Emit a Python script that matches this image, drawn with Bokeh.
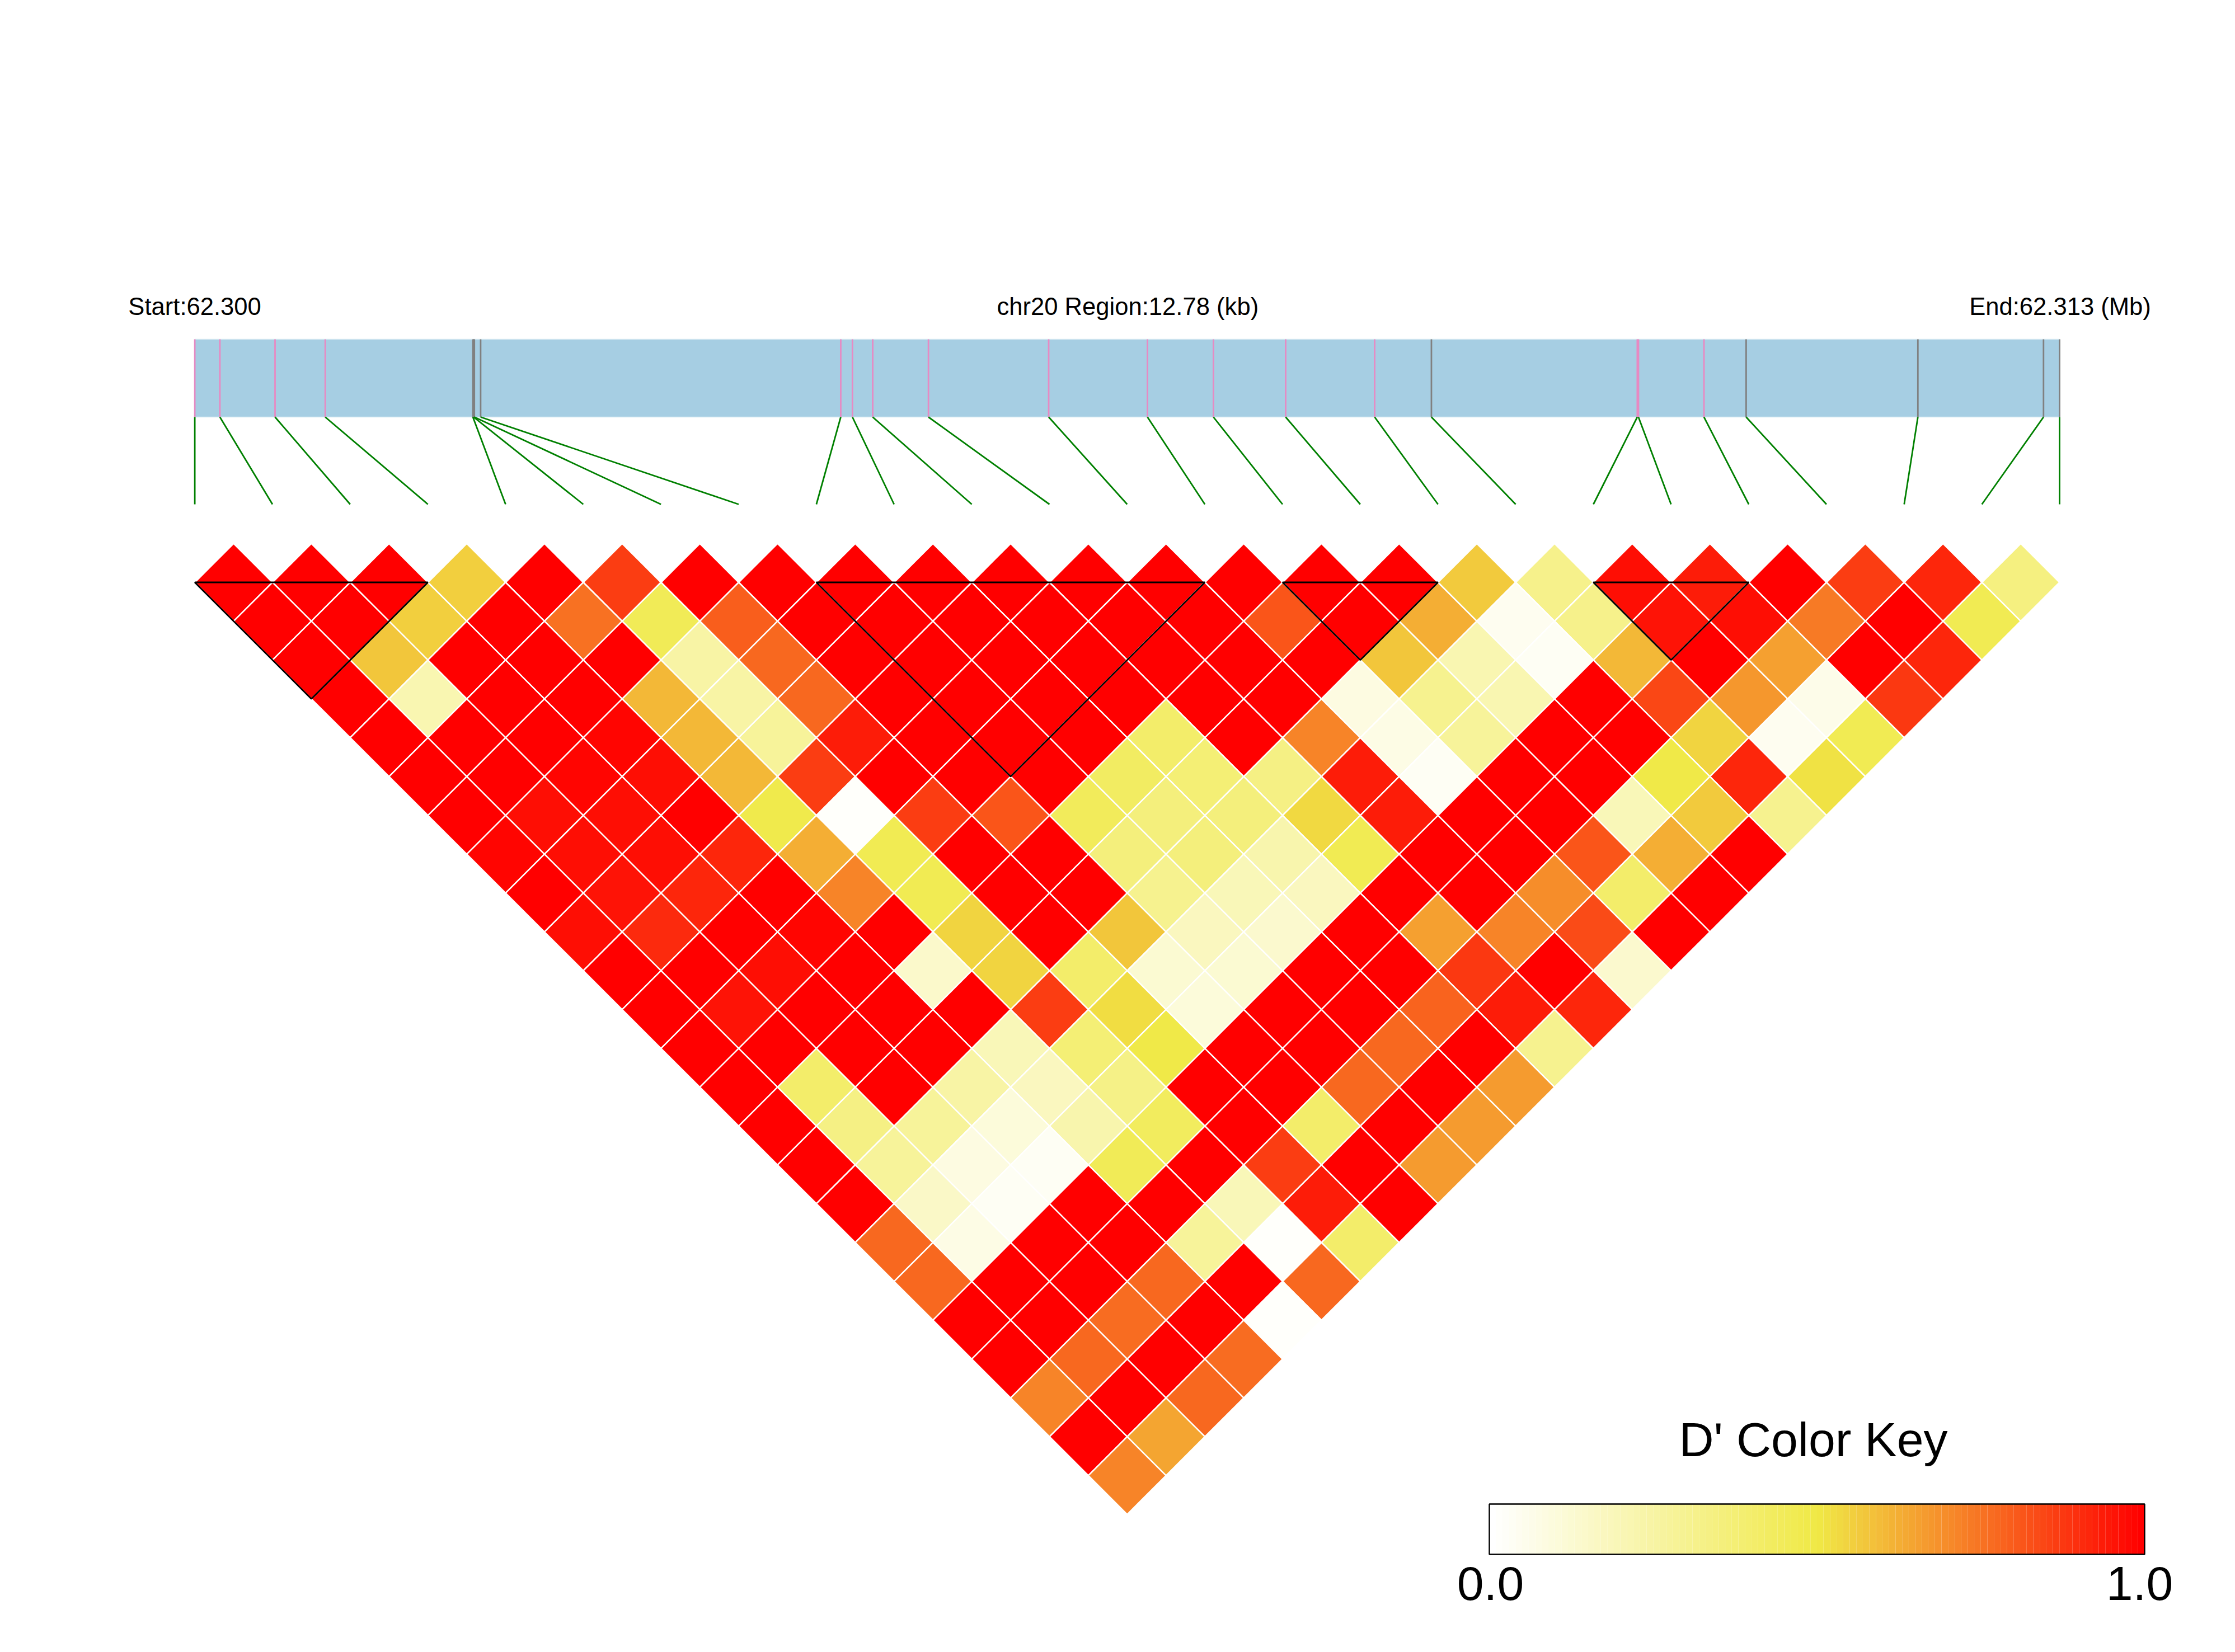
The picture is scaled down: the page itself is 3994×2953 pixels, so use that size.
from bokeh.plotting import figure
from bokeh.models import ColumnDataSource, LinearColorMapper, Range1d
from bokeh.core.properties import value
from bokeh.embed import file_html
from bokeh.resources import INLINE
import numpy as np

# ---- data ----
region_bp = 12780
snp_offset_bp = [0, 172, 550, 894, 1906, 1911, 1916, 1959, 4427, 4507, 4646, 5028, 5852,
                 6529, 6981, 7476, 8086, 8475, 9886, 9894, 10343, 10632, 11809, 12670, 12780]
snp_type = ["p", "p", "p", "p", "g", "g", "g", "g", "p", "p", "p", "p", "p",
            "p", "p", "p", "p", "g", "p", "p", "p", "g", "g", "g", "g"]

r00 = [1, 1, 1, .55, 1, .865, 1, 1, 1, 1, 1, 1, 1, 1, 1, 1, .56, .31, .965, .94, 1, .865, .91, .34]
r01 = [1, 1, .55, 1, .75, .45, .79, 1, 1, 1, 1, 1, 1, .81, 1, .62, .045, .31, .95, .965, .73, 1, .47]
r02 = [1, .58, 1, 1, 1, .24, .77, 1, 1, 1, 1, 1, 1, 1, .58, .21, .035, .60, 1, .655, 1, .91]
r03 = [1, .21, 1, 1, .607, .24, .77, 1, 1, 1, 1, 1, 1, .08, .30, .21, 1, .84, .675, .06, .875]
r04 = [1, 1, 1, .98, .607, .27, .94, 1, 1, 1, .40, 1, .715, .07, .27, 1, 1, .54, .045, .46]
r05 = [1, 1, .98, .965, .607, .865, 1, 1, 1, .42, .37, .33, .94, .03, 1, 1, .49, .91, .51]
r06 = [1, .965, .965, .99, .48, .01, .865, .81, .44, .35, .35, .53, .94, 1, 1, .19, .56, .30]
r07 = [.98, .965, .965, .91, .62, .46, 1, 1, .35, .35, .22, .46, 1, 1, .81, .62, 1]
r08 = [1, .95, .91, 1, .715, .46, 1, 1, .30, .19, .17, 1, 1, .69, .40, 1]
r09 = [.965, .90, 1, .98, 1, .54, 1, .58, .17, .13, 1, .65, .715, .83, 1]
r10 = [1, 1, .965, 1, .145, .54, .40, .12, .12, 1, 1, .875, 1, .13]
r11 = [1, .95, 1, 1, 1, .865, .52, .10, 1, 1, .785, .94, .91]
r12 = [1, 1, 1, 1, .19, .37, .49, 1, 1, .775, 1, .30]
r13 = [1, .40, 1, .24, .17, .32, 1, 1, .775, 1, .66]
r14 = [1, .33, .27, .10, .22, .43, 1, .40, 1, .66]
r15 = [1, .27, .085, .03, .45, 1, .865, 1, .66]
r16 = [1, .15, .035, 1, 1, .19, .94, 1]
r17 = [.77, .07, 1, 1, .27, .01, .40]
r18 = [.77, 1, 1, .775, 1, .775]
r19 = [1, 1, .76, 1, .01]
r20 = [1, .775, 1, .76]
r21 = [.715, 1, .775]
r22 = [1, .645]
r23 = [.715]
rows = [r00, r01, r02, r03, r04, r05, r06, r07, r08, r09, r10, r11, r12,
        r13, r14, r15, r16, r17, r18, r19, r20, r21, r22, r23]

ld_blocks = [(0, 3), (8, 13), (14, 16), (18, 20)]

label_start = "Start:62.300"
label_mid = "chr20 Region:12.78 (kb)"
label_end = "End:62.313 (Mb)"
key_title = "D' Color Key"
key_low = "0.0"
key_high = "1.0"

# ---- layout ----
W, H = 3978, 2937
X0, X1 = 347.6, 3680.0
STEP = (X1 - X0) / 24
HW = STEP / 2
HH = 69.42
Y0 = 1040.5
STRIP_T, STRIP_B = 606, 745
FAN_B = 901
FONT = value("Liberation Sans")

# palette: white -> yellow -> red, 100 bands
n_pal = 100
stops = np.array([[255, 255, 255], [240, 233, 70], [255, 0, 0]], float)
t = np.linspace(0, 2, n_pal)
pal_rgb = np.stack([np.interp(t, [0, 1, 2], stops[:, c]) for c in range(3)], axis=1)
palette = ["#%02x%02x%02x" % tuple(int(round(v)) for v in c) for c in pal_rgb]
mapper = LinearColorMapper(palette=palette, low=0, high=1)

p = figure(width=W, height=H, output_backend="svg", toolbar_location=None,
           x_range=Range1d(0, W), y_range=Range1d(H, 0),
           min_border=0, outline_line_color=None, background_fill_color="white",
           border_fill_color="white")
p.xaxis.visible = False
p.yaxis.visible = False
p.grid.visible = False

# gene strip
p.quad(left=[X0], right=[X1], top=[STRIP_T], bottom=[STRIP_B], fill_color="#A6CEE3",
       line_color="#D8EAF2", line_width=1.5)


def snp_px(bp):
    return X0 + (X1 - X0) * bp / region_bp


sx = [snp_px(b) for b in snp_offset_bp]
for code, col in (("p", "#E78AC3"), ("g", "#808080")):
    xs = [x for x, k in zip(sx, snp_type) if k == code]
    p.segment(x0=xs, x1=xs, y0=[STRIP_T] * len(xs), y1=[STRIP_B] * len(xs),
              line_color=col, line_width=2.8)

# fan of connectors
bx = [X0 + i * STEP for i in range(len(sx))]
p.segment(x0=sx, y0=[STRIP_B] * len(sx), x1=bx, y1=[FAN_B] * len(sx),
          line_color="#008000", line_width=2.8)

# LD cells
cx, cy, vals = [], [], []
for r, row in enumerate(rows):
    for i, v in enumerate(row):
        x = X0 + HW * (2 * i + r + 1)
        y = Y0 + HH * r
        cx.append([x - HW, x, x + HW, x])
        cy.append([y, y - HH, y, y + HH])
        vals.append(v)
src = ColumnDataSource(dict(xs=cx, ys=cy, v=vals))
p.patches("xs", "ys", source=src, fill_color={"field": "v", "transform": mapper},
          line_color="white", line_width=2.5)

# LD blocks
bxs, bys = [], []
for a, b in ld_blocks:
    xl = X0 + a * STEP
    xr = X0 + b * STEP
    bxs.append([xl, xr, (xl + xr) / 2, xl])
    bys.append([Y0, Y0, Y0 + HH * (b - a), Y0])
p.patches(bxs, bys, fill_color=None, line_color="black", line_width=2.8)

# header texts
p.text(x=[X0, (X0 + X1) / 2 + 1, X1 + 1], y=[547] * 3,
       text=[label_start, label_mid, label_end], text_font=FONT, text_font_size="43.6px",
       text_align="center", text_baseline="middle", text_color="black")

# colour key
KL, KR, KT, KB = 2661.0, 3832.0, 2688, 2778
edges = np.linspace(KL, KR, n_pal + 1)
p.quad(left=edges[:-1], right=edges[1:], top=[KT] * n_pal, bottom=[KB] * n_pal,
       fill_color=palette, line_color=None)
p.quad(left=[KL], right=[KR], top=[KT], bottom=[KB], fill_color=None,
       line_color="black", line_width=2.4)
p.text(x=[3240], y=[2572], text=[key_title], text_font=FONT, text_font_size="86px",
       text_align="center", text_baseline="middle", text_color="black")
p.text(x=[KL + 2, KR - 9], y=[2830, 2830], text=[key_low, key_high], text_font=FONT,
       text_font_size="86px", text_align="center", text_baseline="middle",
       text_color="black")

open("out.html", "w").write(file_html(p, INLINE))
